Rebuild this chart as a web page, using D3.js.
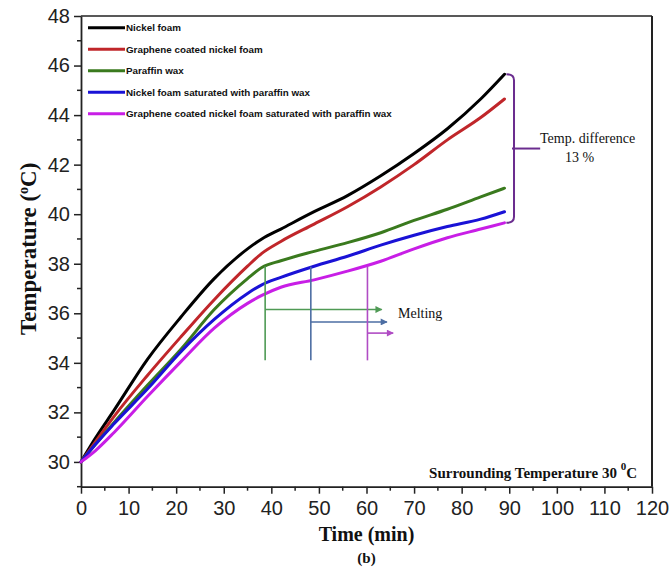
<!DOCTYPE html>
<html>
<head>
<meta charset="utf-8">
<script src="https://cdn.jsdelivr.net/npm/d3@7"></script>
<style>
  html, body { margin: 0; padding: 0; background: #fff; }
  svg { display: block; }
</style>
</head>
<body>
<svg id="chart" width="670" height="570"></svg>
<script>
// ---------- data ----------
const times = [0, 3, 7, 14, 21, 28, 35, 38, 42, 49, 56, 63, 70, 77, 84, 89];
const seriesNames = [
  "Nickel foam",
  "Graphene coated nickel foam",
  "Paraffin wax",
  "Nickel foam saturated with paraffin wax",
  "Graphene coated nickel foam saturated with paraffin wax"
];
const nickelFoam      = [30, 30.95, 32.1, 34.15, 35.85, 37.4, 38.6, 39.0, 39.4, 40.1, 40.75, 41.55, 42.45, 43.45, 44.65, 45.65];
const grapheneFoam    = [30, 30.8, 31.85, 33.5, 35.05, 36.55, 37.9, 38.42, 38.9, 39.6, 40.3, 41.1, 42.0, 43.0, 43.9, 44.65];
const paraffinWax     = [30, 30.7, 31.6, 33.1, 34.55, 36.15, 37.4, 37.85, 38.12, 38.5, 38.85, 39.25, 39.75, 40.2, 40.7, 41.05];
const nickelParaffin  = [30, 30.7, 31.55, 32.95, 34.45, 35.75, 36.8, 37.15, 37.45, 37.9, 38.3, 38.75, 39.15, 39.5, 39.8, 40.1];
const grapheneParaffin= [30, 30.45, 31.2, 32.65, 34.05, 35.4, 36.4, 36.72, 37.05, 37.35, 37.7, 38.1, 38.6, 39.05, 39.4, 39.65];
const seriesValues = [nickelFoam, grapheneFoam, paraffinWax, nickelParaffin, grapheneParaffin];
const seriesColors = ["#000000", "#c0262a", "#3a7a1e", "#1a12d6", "#c81ee6"];

const xTicks = [0, 10, 20, 30, 40, 50, 60, 70, 80, 90, 100, 110, 120];
const yTicks = [30, 32, 34, 36, 38, 40, 42, 44, 46, 48];

// melting annotations (green, blue, magenta)
const meltTimes    = [38.7, 48.3, 60.2];
const meltTop      = [37.9, 37.88, 37.9];
const meltBottom   = [34.1, 34.1, 34.1];
const meltArrowY   = [36.15, 35.65, 35.2];
const meltArrowEnd = [63.2, 64.3, 65.6];
const meltColors   = ["#4f9a55", "#4d6ea3", "#b04cc4"];

// ---------- layout ----------
const svg = d3.select("#chart");
const x = d3.scaleLinear().domain([0, 120]).range([81, 652]);
const y = d3.scaleLinear().domain([29, 48]).range([486.7, 16]);
const axisColor = "#222";

// frame (top & right)
svg.append("line").attr("x1", x(0)).attr("x2", x(120)).attr("y1", y(48)).attr("y2", y(48))
  .attr("stroke", axisColor).attr("stroke-width", 1.5);
svg.append("line").attr("x1", x(120)).attr("x2", x(120)).attr("y1", y(48)).attr("y2", y(29))
  .attr("stroke", axisColor).attr("stroke-width", 2);

// axes
const xAxis = d3.axisBottom(x).tickValues(xTicks).tickSize(7).tickSizeOuter(0).tickPadding(4);
const yAxis = d3.axisLeft(y).tickValues(yTicks).tickSize(7).tickSizeOuter(0).tickPadding(4);

const gx = svg.append("g").attr("transform", `translate(0,${y(29)})`).call(xAxis);
const gy = svg.append("g").attr("transform", `translate(${x(0)},0)`).call(yAxis);

// minor ticks
const xMinor = d3.range(5, 120, 10);
const yMinor = d3.range(29, 48, 2);
svg.append("g").selectAll("line").data(xMinor).join("line")
  .attr("x1", d => x(d)).attr("x2", d => x(d)).attr("y1", y(29)).attr("y2", y(29) + 4)
  .attr("stroke", axisColor).attr("stroke-width", 1.5);
svg.append("g").selectAll("line").data(yMinor).join("line")
  .attr("x1", x(0)).attr("x2", x(0) - 4).attr("y1", d => y(d)).attr("y2", d => y(d))
  .attr("stroke", axisColor).attr("stroke-width", 1.5);

[gx, gy].forEach(g => {
  g.select(".domain").attr("stroke", axisColor).attr("stroke-width", 1.8);
  g.selectAll(".tick line").attr("stroke", axisColor).attr("stroke-width", 1.5);
  g.selectAll(".tick text")
    .attr("fill", "#222")
    .style("font-family", "'Liberation Sans Narrow', 'Arial Narrow', 'Liberation Sans', sans-serif")
    .style("font-size", "20px");
});
gx.selectAll(".tick text").attr("dy", "0.85em");

// ---------- series ----------
const line = d3.line()
  .x(d => x(d[0]))
  .y(d => y(d[1]))
  .curve(d3.curveMonotoneX);

seriesValues.forEach((vals, i) => {
  svg.append("path")
    .datum(times.map((t, j) => [t, vals[j]]))
    .attr("fill", "none")
    .attr("stroke", seriesColors[i])
    .attr("stroke-width", 3)
    .attr("stroke-linejoin", "round")
    .attr("stroke-linecap", "round")
    .attr("d", line);
});

// ---------- legend ----------
const legend = svg.append("g");
seriesNames.forEach((name, i) => {
  const ly = 27.7 + i * 21.5;
  legend.append("line").attr("x1", 88).attr("x2", 125).attr("y1", ly).attr("y2", ly)
    .attr("stroke", seriesColors[i]).attr("stroke-width", 3);
  legend.append("text").attr("x", 126).attr("y", ly).attr("dy", "0.35em")
    .style("font-family", "'Liberation Sans', Arial, sans-serif")
    .style("font-size", "9.8px").style("font-weight", "bold").attr("fill", "#111")
    .text(name);
});

// ---------- melting annotation ----------
const defs = svg.append("defs");
meltColors.forEach((c, i) => {
  defs.append("marker").attr("id", "arr" + i)
    .attr("viewBox", "0 0 10 10").attr("refX", 9).attr("refY", 5)
    .attr("markerWidth", 8).attr("markerHeight", 7)
    .attr("markerUnits", "userSpaceOnUse")
    .attr("orient", "auto")
    .append("path").attr("d", "M0,0 L10,5 L0,10 Z").attr("fill", c);
});
meltTimes.forEach((t, i) => {
  svg.append("line")
    .attr("x1", x(t)).attr("x2", x(t)).attr("y1", y(meltTop[i])).attr("y2", y(meltBottom[i]))
    .attr("stroke", meltColors[i]).attr("stroke-width", 1.6);
  svg.append("line")
    .attr("x1", x(t)).attr("x2", x(meltArrowEnd[i])).attr("y1", y(meltArrowY[i])).attr("y2", y(meltArrowY[i]))
    .attr("stroke", meltColors[i]).attr("stroke-width", 1.6)
    .attr("marker-end", `url(#arr${i})`);
});
svg.append("text").attr("x", 398).attr("y", 318)
  .style("font-family", "'Liberation Serif', 'Times New Roman', serif")
  .style("font-size", "14px").attr("fill", "#111").text("Melting");

// ---------- bracket ----------
const bTop = nickelFoam[nickelFoam.length - 1];
const bBot = grapheneParaffin[grapheneParaffin.length - 1];
const bMid = (bTop + bBot) / 2;
const bx0 = x(89.4), bx1 = x(91.0), bTip = x(96.5);
const purple = "#6b2d8f";
svg.append("path")
  .attr("d", `M${bx0},${y(bTop)} Q${bx1},${y(bTop)} ${bx1},${y(bTop) + 6}
              L${bx1},${y(bBot) - 6} Q${bx1},${y(bBot)} ${bx0},${y(bBot)}`)
  .attr("fill", "none").attr("stroke", purple).attr("stroke-width", 2);
svg.append("line").attr("x1", bx1 - 2).attr("x2", bTip).attr("y1", y(bMid)).attr("y2", y(bMid))
  .attr("stroke", purple).attr("stroke-width", 2);
svg.append("text").attr("x", 540).attr("y", 143)
  .style("font-family", "'Liberation Serif', 'Times New Roman', serif")
  .style("font-size", "14px").attr("fill", "#111").text("Temp. difference");
svg.append("text").attr("x", 565).attr("y", 162)
  .style("font-family", "'Liberation Serif', 'Times New Roman', serif")
  .style("font-size", "14px").attr("fill", "#111").text("13 %");

// ---------- surrounding temperature ----------
const st = svg.append("text").attr("x", 637).attr("y", 478).attr("text-anchor", "end")
  .style("font-family", "'Liberation Serif', 'Times New Roman', serif")
  .style("font-size", "15px").style("font-weight", "bold").attr("fill", "#111");
st.append("tspan").text("Surrounding Temperature 30 ");
st.append("tspan").attr("dy", -8).style("font-size", "11px").text("0");
st.append("tspan").attr("dy", 8).text("C");

// ---------- axis titles ----------
svg.append("text").attr("x", x(60)).attr("y", 541).attr("text-anchor", "middle")
  .style("font-family", "'Liberation Serif', 'Times New Roman', serif")
  .style("font-size", "20px").style("font-weight", "bold").attr("fill", "#111")
  .text("Time (min)");
svg.append("text").attr("x", x(60)).attr("y", 563).attr("text-anchor", "middle")
  .style("font-family", "'Liberation Serif', 'Times New Roman', serif")
  .style("font-size", "15px").style("font-weight", "bold").attr("fill", "#111")
  .text("(b)");
const yt = svg.append("text")
  .attr("transform", `translate(36,${y(38.6)}) rotate(-90)`)
  .attr("text-anchor", "middle")
  .style("font-family", "'Liberation Serif', 'Times New Roman', serif")
  .style("font-size", "23px").style("font-weight", "bold").attr("fill", "#111");
yt.append("tspan").text("Temperature (");
yt.append("tspan").attr("dy", -8).style("font-size", "14px").text("o");
yt.append("tspan").attr("dy", 8).text("C)");
</script>
</body>
</html>
